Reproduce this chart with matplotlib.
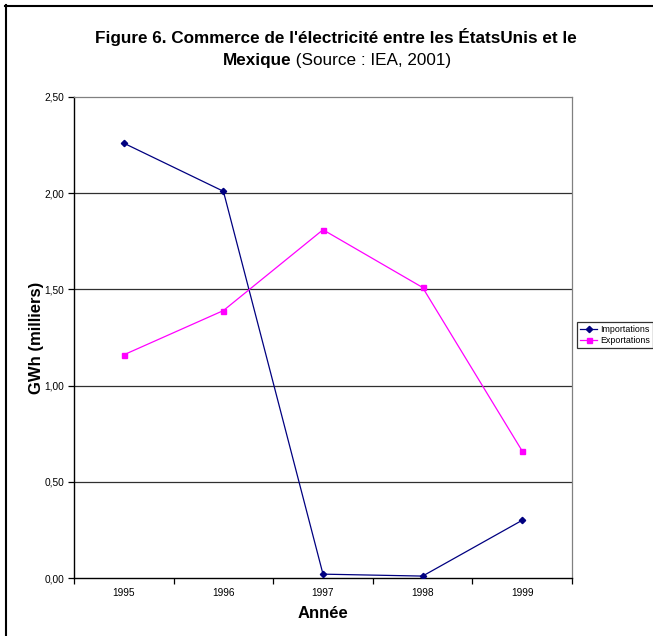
import matplotlib.pyplot as plt
from matplotlib.lines import Line2D
import numpy as np

plt.rcParams['font.family'] = ['Liberation Sans', 'DejaVu Sans']

# data (GWh, thousands)
years = ['1995', '1996', '1997', '1998', '1999']
imports = [2.26, 2.01, 0.02, 0.01, 0.30]
exports = [1.16, 1.39, 1.81, 1.51, 0.66]
y_ticks = [0.0, 0.5, 1.0, 1.5, 2.0, 2.5]

W, H = 653, 636
fig = plt.figure(figsize=(W / 100, H / 100), dpi=100)
ax = fig.add_axes([74 / W, 1 - 578 / H, (572 - 74) / W, (578 - 97) / H])

x = np.arange(len(years))
ax.plot(x, imports, color='#000080', lw=0.9, marker='D', ms=3.2, label='Importations', zorder=3)
ax.plot(x, exports, color='#FF00FF', lw=0.9, marker='s', ms=3.6, label='Exportations', zorder=3)

ax.set_xlim(-0.5, len(years) - 0.5)
ax.set_ylim(0, 2.5)

# grid lines
for v in y_ticks[1:-1]:
    ax.axhline(v, color='#303030', lw=0.9, zorder=1)

ax.set_yticks(y_ticks)
ax.set_yticklabels([f'{v:.2f}'.replace('.', ',') for v in y_ticks], fontsize=7.3)
ax.set_xticks(x)
ax.set_xticklabels(years, fontsize=7.3)
ax.set_xticks(np.arange(-0.5, len(years)), minor=True)
ax.tick_params(axis='x', which='major', length=0, pad=7)
ax.tick_params(axis='x', which='minor', length=4, width=0.9, direction='out')
ax.tick_params(axis='y', length=4, width=0.9, direction='out', pad=3)

for s in ['left', 'bottom']:
    ax.spines[s].set_color('black')
    ax.spines[s].set_linewidth(1.0)
for s in ['top', 'right']:
    ax.spines[s].set_color('#808080')
    ax.spines[s].set_linewidth(0.9)

ax.set_xlabel('Année', fontsize=12, fontweight='bold', labelpad=6)
ax.set_ylabel('GWh (milliers)', fontsize=12, fontweight='bold', labelpad=0.5)

# title: first line bold, second line mixed bold / regular
fig.text(336 / W, 1 - 37 / H, "Figure 6. Commerce de l'électricité entre les ÉtatsUnis et le",
         ha='center', va='center', fontsize=12.3, fontweight='bold')
fig.canvas.draw()
renderer = fig.canvas.get_renderer()
t1 = fig.text(0, 1 - 60 / H, 'Mexique', ha='left', va='center', fontsize=12.3, fontweight='bold')
t2 = fig.text(0, 1 - 60 / H, ' (Source : IEA, 2001)', ha='left', va='center', fontsize=12.3)
w1 = t1.get_window_extent(renderer).width
w2 = t2.get_window_extent(renderer).width
x0 = 337 - (w1 + w2) / 2
t1.set_x(x0 / W)
t2.set_x((x0 + w1) / W)

leg = fig.legend(loc='upper left', bbox_to_anchor=(577 / W, 1 - 322 / H), fontsize=6.4,
                 frameon=True, fancybox=False, edgecolor='black', borderpad=0.3,
                 handlelength=2.0, handletextpad=0.3, labelspacing=0.25, borderaxespad=0)
leg.get_frame().set_linewidth(0.9)

# outer frame (top and left edges)
fig.add_artist(Line2D([5 / W, 1], [1 - 5.5 / H, 1 - 5.5 / H], color='black', lw=1.5, transform=fig.transFigure))
fig.add_artist(Line2D([5.5 / W, 5.5 / W], [0, 1 - 5 / H], color='black', lw=1.5, transform=fig.transFigure))

fig.savefig('out.png', dpi=100)
